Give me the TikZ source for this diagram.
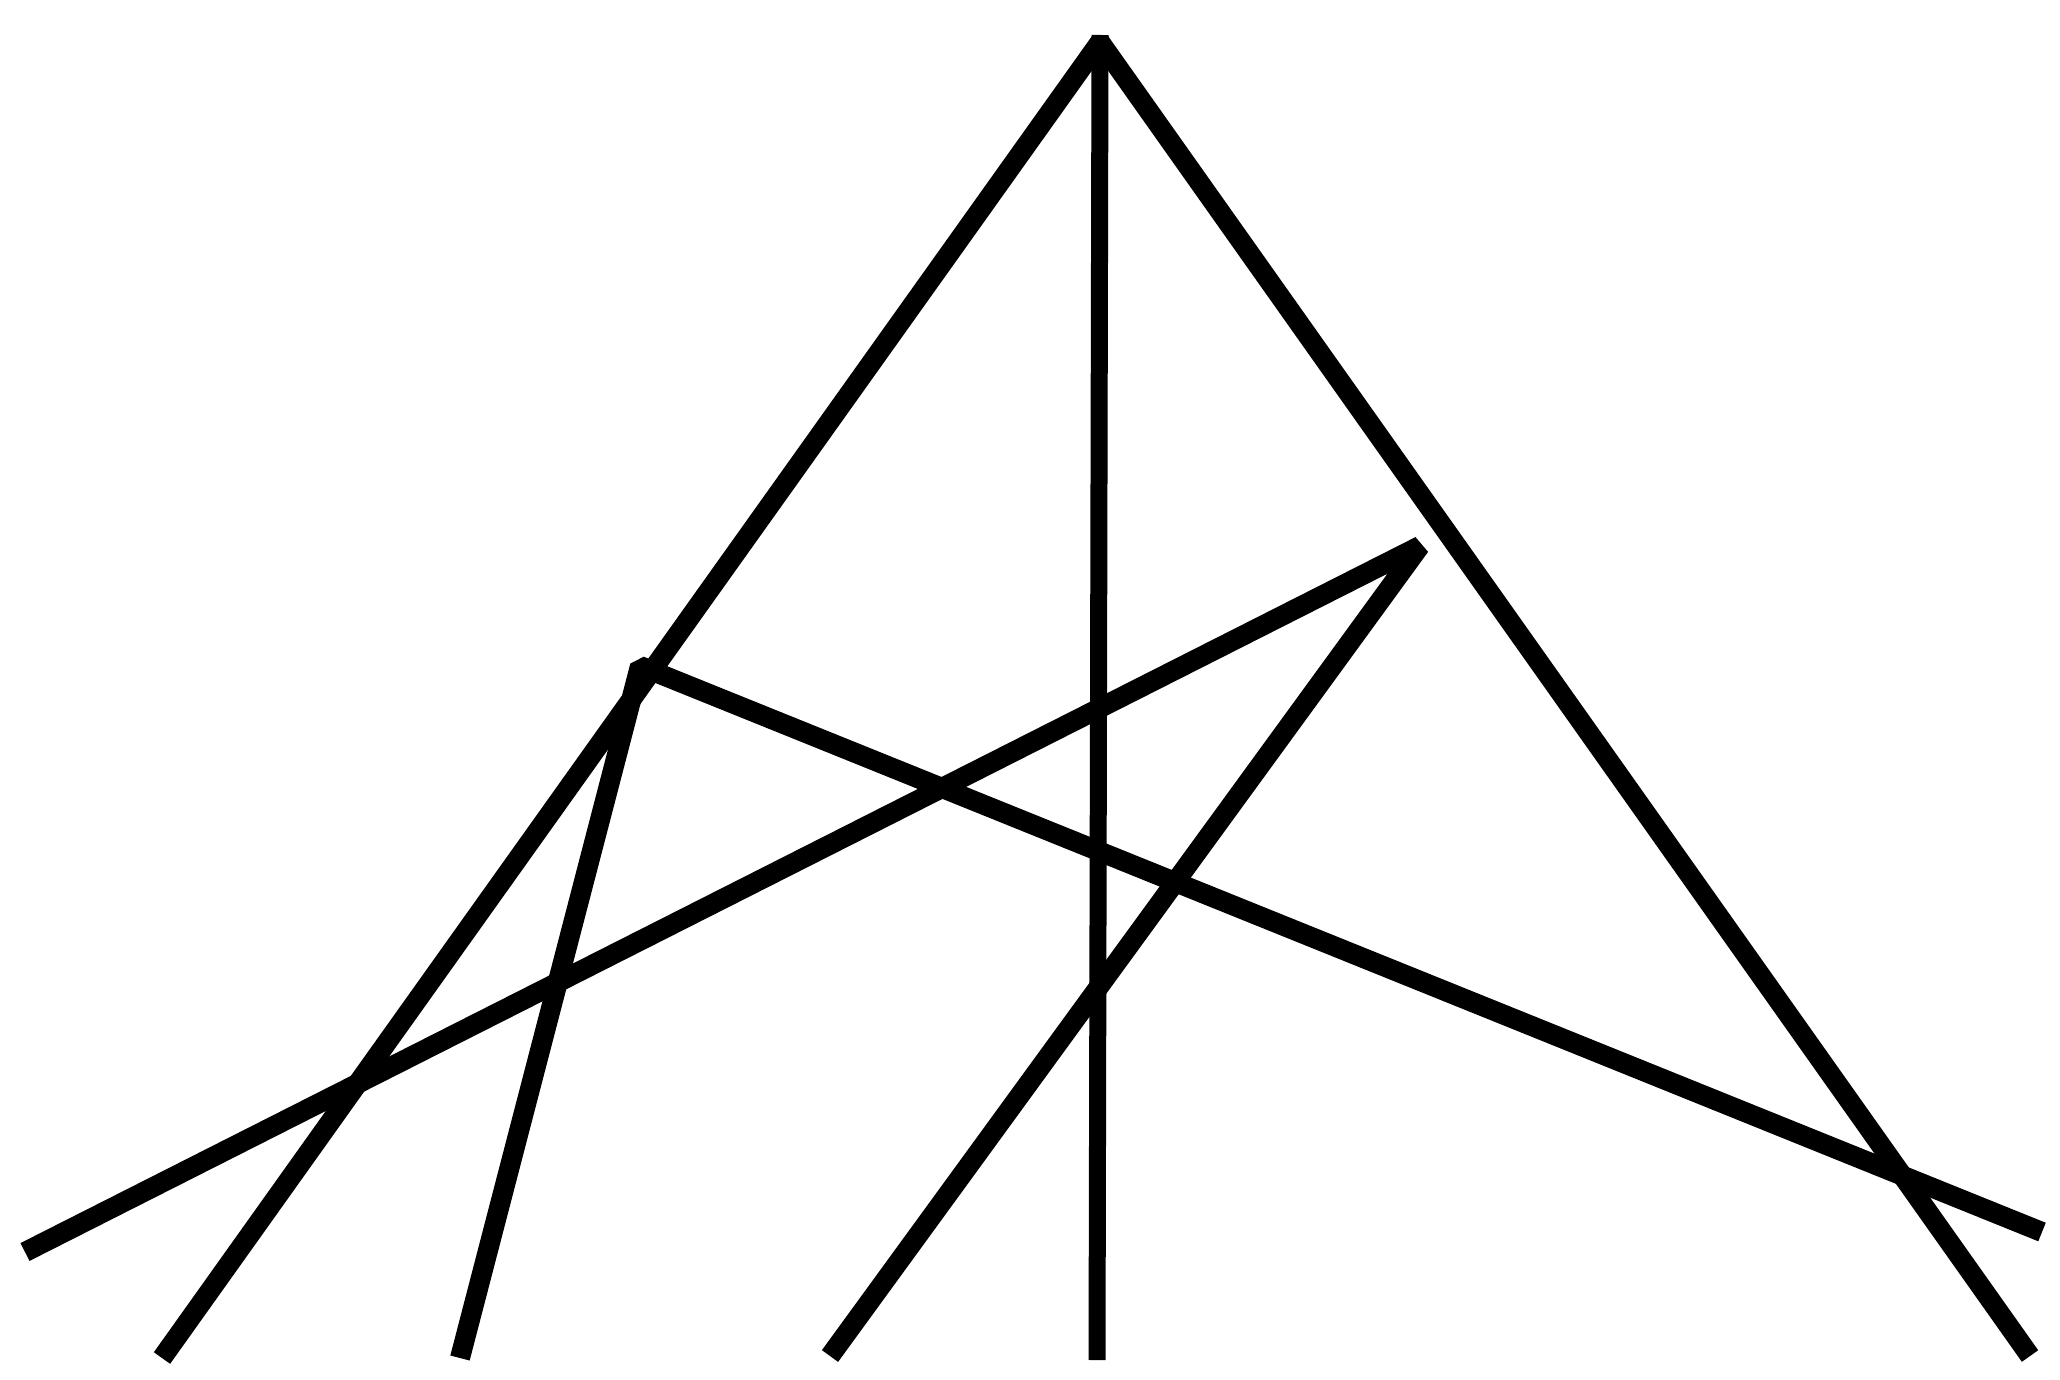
\documentclass[tikz,border=0pt]{standalone}
\begin{document}
\begin{tikzpicture}[x=0.5pt,y=-0.5pt,
  stroke/.style={line width=10pt,black,line join=bevel,line cap=butt}]
\useasboundingbox (0,0) rectangle (2060,1380);
\coordinate (apex) at (1100,42);
\coordinate (vtop) at (1100,35);
\coordinate (vb) at (1097,1360);
\coordinate (lb) at (162,1358);
\coordinate (rb) at (2030,1356);
\coordinate (aL) at (25,1252);
\coordinate (aT) at (1420,546);
\coordinate (aB) at (830,1356);
\coordinate (bB) at (460,1358);
\coordinate (bT) at (640,666);
\coordinate (bR) at (2042,1232);
\draw[stroke] (lb) -- (apex) -- (rb);
\draw[stroke,line width=8.5pt] (vtop) -- (vb);
\draw[stroke] (aL) -- (aT) -- (aB);
\draw[stroke] (bB) -- (bT) -- (bR);
\end{tikzpicture}
\end{document}
